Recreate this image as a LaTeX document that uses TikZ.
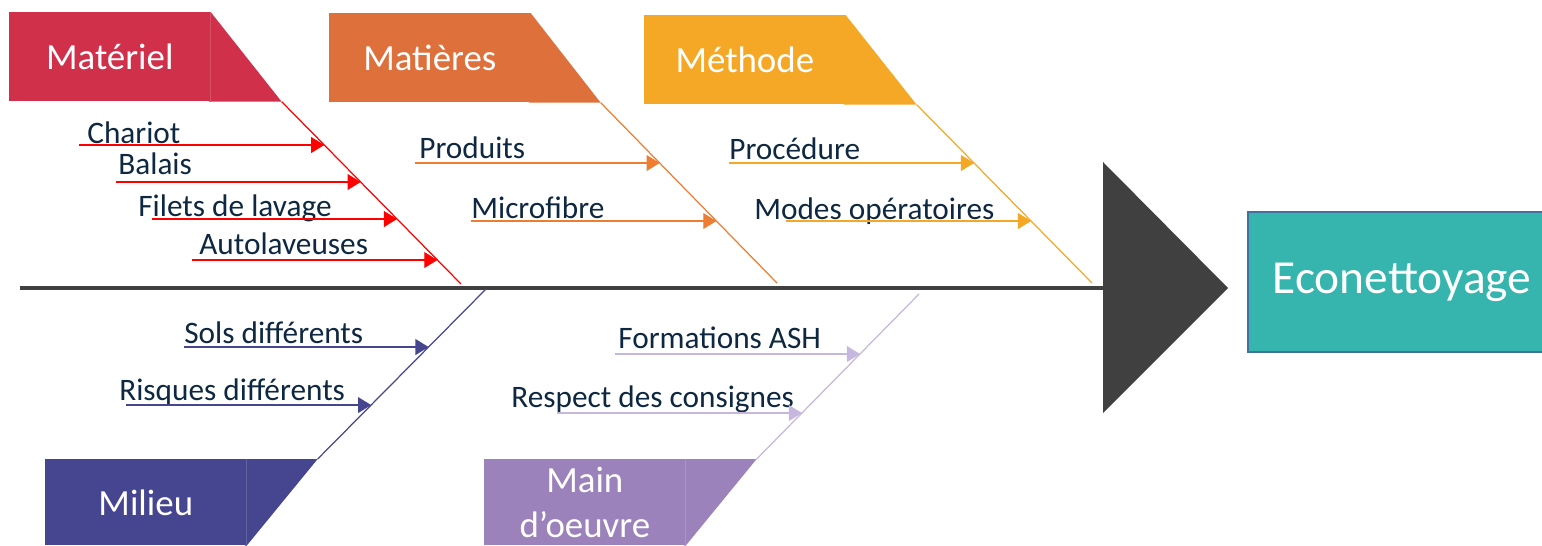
\documentclass[tikz,border=0pt]{standalone}
\usepackage{fontspec}
\setmainfont{Carlito}
\usetikzlibrary{arrows.meta,calc}
\definecolor{materielred}{RGB}{209,48,75}
\definecolor{matieresorange}{RGB}{222,112,60}
\definecolor{matieresline}{RGB}{237,125,49}
\definecolor{methodeyellow}{RGB}{245,168,38}
\definecolor{milieublue}{RGB}{70,69,143}
\definecolor{mainpurple}{RGB}{155,130,187}
\definecolor{mainline}{RGB}{197,183,222}
\definecolor{spinegray}{RGB}{64,64,64}
\definecolor{effectteal}{RGB}{53,181,174}
\definecolor{effectborder}{RGB}{65,113,156}
\definecolor{causeblue}{RGB}{14,40,65}

\begin{document}
\begin{tikzpicture}[x=0.02cm, y=-0.02cm,
	header/.style={
		rectangle,
		anchor=north west,
		fill=#1,
		inner sep=0pt,
		minimum width=4.02cm,
		minimum height=1.78cm,
		text=white,
		align=center,
		font=\fontsize{21}{25.5}\selectfont
	},
	cause/.style={
		anchor=base west,
		inner sep=0pt,
		text=causeblue,
		font=\fontsize{17.8}{21}\selectfont
	},
	bone/.style={
		line width=0.7pt,
		color=#1
	},
	subbone/.style={
		-{Triangle[length=7.5pt,width=9pt]},
		line width=0.8pt,
		color=#1
	},
	effectbox/.style={
		rectangle,
		fill=effectteal,
		draw=effectborder,
		line width=0.9pt,
		minimum width=6.16cm,
		minimum height=2.8cm,
		text=white,
		font=\fontsize{27}{31}\selectfont
	}
	]

	\useasboundingbox (0,0) rectangle (1542,545);
	\clip (0,0) rectangle (1542,545);

	% Spine and head
	\coordinate (tail) at (20,288);
	\coordinate (headbase) at (1103,288);
	\coordinate (headtop) at (1103,162);
	\coordinate (headtip) at (1228,288);
	\coordinate (headbot) at (1103,413);
	\draw[spinegray, line width=2.2pt] (tail) -- (headbase);
	\fill[spinegray] (headtop) -- (headtip) -- (headbot) -- cycle;

	% Effect
	\node[effectbox] (effect) at (1402,282) {Econettoyage};

	% Headers - top row
	\node[header=materielred] (materiel) at (9,12) {Matériel};
	\path (materiel.south east) ++(71,0) coordinate (materielfoot);
	\fill[materielred] ([xshift=-1pt]materiel.north east) -- (materiel.north east) -- (materielfoot) -- ([xshift=-1pt]materiel.south east) -- cycle;
	\draw[materielred!85!white, line width=0.3pt] (materiel.north east) -- (materiel.south east);

	\node[header=matieresorange] (matieres) at (329,13) {Matières};
	\path (matieres.south east) ++(70,0) coordinate (matieresfoot);
	\fill[matieresorange] ([xshift=-1pt]matieres.north east) -- (matieres.north east) -- (matieresfoot) -- ([xshift=-1pt]matieres.south east) -- cycle;

	\node[header=methodeyellow] (methode) at (644,15) {Méthode};
	\path (methode.south east) ++(71,0) coordinate (methodefoot);
	\fill[methodeyellow] ([xshift=-1pt]methode.north east) -- (methode.north east) -- (methodefoot) -- ([xshift=-1pt]methode.south east) -- cycle;

	% Headers - bottom row
	\node[header=milieublue, minimum height=1.72cm] (milieu) at (45,459) {Milieu};
	\path (milieu.north east) ++(71,0) coordinate (milieufoot);
	\fill[milieublue] ([xshift=-1pt]milieu.north east) -- (milieufoot) -- (milieu.south east) -- ([xshift=-1pt]milieu.south east) -- cycle;
	\draw[milieublue!85!white, line width=0.3pt] (milieu.north east) -- (milieu.south east);

	\node[header=mainpurple, minimum height=1.72cm] (main) at (484,459) {Main\\d’oeuvre};
	\path (main.north east) ++(71,0) coordinate (mainfoot);
	\fill[mainpurple] ([xshift=-1pt]main.north east) -- (mainfoot) -- (main.south east) -- ([xshift=-1pt]main.south east) -- cycle;
	\draw[mainpurple!85!white, line width=0.3pt] (main.north east) -- (main.south east);

	% Bones
	\coordinate (materieljoint) at (461,284);
	\coordinate (matieresjoint) at (777,283);
	\coordinate (methodejoint) at (1092,283);
	\coordinate (milieujoint) at (486,289);
	\coordinate (mainjoint) at (919,294);
	\draw[bone=red] (materielfoot) -- (materieljoint);
	\draw[bone=matieresline] (matieresfoot) -- (matieresjoint);
	\draw[bone=methodeyellow] (methodefoot) -- (methodejoint);
	\draw[bone=milieublue] (milieufoot) -- (milieujoint);
	\draw[bone=mainline] (mainfoot) -- (mainjoint);

	% Causes - Materiel
	\node[cause] (chariot) at (87,143) {Chariot};
	\coordinate (chariottip) at (intersection of materielfoot--materieljoint and 0,145--1542,145);
	\coordinate (chariotstart) at ($(chariottip)+(-245,0)$);
	\draw[subbone=red] (chariotstart) -- (chariottip);

	\node[cause] (balais) at (118,174) {Balais};
	\coordinate (balaistip) at (intersection of materielfoot--materieljoint and 0,182--1542,182);
	\coordinate (balaisstart) at ($(balaistip)+(-245,0)$);
	\draw[subbone=red] (balaisstart) -- (balaistip);

	\node[cause] (filets) at (138,216) {Filets de lavage};
	\coordinate (filetstip) at (intersection of materielfoot--materieljoint and 0,219--1542,219);
	\coordinate (filetsstart) at ($(filetstip)+(-245,0)$);
	\draw[subbone=red] (filetsstart) -- (filetstip);

	\node[cause] (autolaveuses) at (199,254) {Autolaveuses};
	\coordinate (autolaveusestip) at (intersection of materielfoot--materieljoint and 0,260--1542,260);
	\coordinate (autolaveusesstart) at ($(autolaveusestip)+(-245,0)$);
	\draw[subbone=red] (autolaveusesstart) -- (autolaveusestip);

	% Causes - Matieres
	\node[cause] (produits) at (419,158) {Produits};
	\coordinate (produitstip) at (intersection of matieresfoot--matieresjoint and 0,163--1542,163);
	\coordinate (produitsstart) at ($(produitstip)+(-245,0)$);
	\draw[subbone=matieresline] (produitsstart) -- (produitstip);

	\node[cause] (microfibre) at (471,218) {Microfibre};
	\coordinate (microfibretip) at (intersection of matieresfoot--matieresjoint and 0,221--1542,221);
	\coordinate (microfibrestart) at ($(microfibretip)+(-245,0)$);
	\draw[subbone=matieresline] (microfibrestart) -- (microfibretip);

	% Causes - Methode
	\node[cause] (procedure) at (729,159) {Procédure};
	\coordinate (proceduretip) at (intersection of methodefoot--methodejoint and 0,163--1542,163);
	\coordinate (procedurestart) at ($(proceduretip)+(-245,0)$);
	\draw[subbone=methodeyellow] (procedurestart) -- (proceduretip);

	\node[cause] (modes) at (754,219) {Modes opératoires};
	\coordinate (modestip) at (intersection of methodefoot--methodejoint and 0,221--1542,221);
	\coordinate (modesstart) at ($(modestip)+(-245,0)$);
	\draw[subbone=methodeyellow] (modesstart) -- (modestip);

	% Causes - Milieu
	\node[cause] (sols) at (184,343) {Sols différents};
	\coordinate (solstip) at (intersection of milieufoot--milieujoint and 0,347--1542,347);
	\coordinate (solsstart) at ($(solstip)+(-245,0)$);
	\draw[subbone=milieublue] (solsstart) -- (solstip);

	\node[cause] (risques) at (119,400) {Risques différents};
	\coordinate (risquestip) at (intersection of milieufoot--milieujoint and 0,405--1542,405);
	\coordinate (risquesstart) at ($(risquestip)+(-245,0)$);
	\draw[subbone=milieublue] (risquesstart) -- (risquestip);

	% Causes - Main d'oeuvre
	\node[cause] (formations) at (618,348) {Formations ASH};
	\coordinate (formationstip) at (intersection of mainfoot--mainjoint and 0,354--1542,354);
	\coordinate (formationsstart) at ($(formationstip)+(-245,0)$);
	\draw[subbone=mainline] (formationsstart) -- (formationstip);

	\node[cause] (respect) at (511,407) {Respect des consignes};
	\coordinate (respecttip) at (intersection of mainfoot--mainjoint and 0,413--1542,413);
	\coordinate (respectstart) at ($(respecttip)+(-245,0)$);
	\draw[subbone=mainline] (respectstart) -- (respecttip);

\end{tikzpicture}
\end{document}
